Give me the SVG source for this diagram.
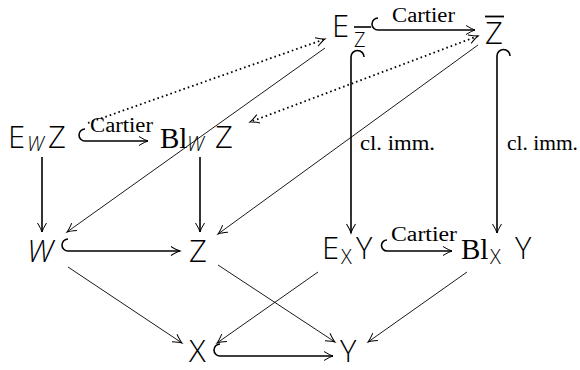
<svg xmlns="http://www.w3.org/2000/svg" width="580" height="370" viewBox="0 0 580 370">
<style>
.m{font-family:"Open Sans","Lato","DejaVu Sans",sans-serif;font-weight:300;font-size:31px;fill:#000}
.s{font-family:"Open Sans","Lato","DejaVu Sans",sans-serif;font-weight:300;font-size:20px;fill:#000}
.si{font-family:"Open Sans","Lato","DejaVu Sans",sans-serif;font-weight:300;font-size:20px;font-style:italic;fill:#000}
.r{font-family:"Liberation Serif","DejaVu Serif",serif;font-weight:normal;fill:#000}
.lab{font-family:"Liberation Serif","DejaVu Serif",serif;font-size:20px;fill:#000}
.thick{stroke:#000;stroke-width:1.6;fill:none}
.thin{stroke:#000;stroke-width:0.9;fill:none}
.dot{stroke:#000;stroke-width:1.8;fill:none;stroke-dasharray:1.6 3}
</style>
<defs>
<marker id="ah" markerUnits="userSpaceOnUse" markerWidth="16" markerHeight="12" viewBox="-10 -6 12 12" refX="0" refY="0" orient="auto">
<path d="M-9,-4.5 Q-3,-0.8 0,0 Q-3,0.8 -9,4.5" stroke="#000" stroke-width="1" fill="none"/>
</marker>
<marker id="ahs" markerUnits="userSpaceOnUse" markerWidth="16" markerHeight="12" viewBox="-10 -6 12 12" refX="0" refY="0" orient="auto-start-reverse">
<path d="M-9,-4.5 Q-3,-0.8 0,0 Q-3,0.8 -9,4.5" stroke="#000" stroke-width="1" fill="none"/>
</marker>
</defs>

<g id="connectors">
<path class="thick" d="M378,18 A6,6 0 0 0 378,30 L475,30" marker-end="url(#ah)"/>
<path class="thick" d="M85,129 A6,6 0 0 0 85,141 L148,141" marker-end="url(#ah)"/>
<path class="thick" d="M68,239 A6,6 0 0 0 68,251 L180,251" marker-end="url(#ah)"/>
<path class="thick" d="M387,240 A5.5,5.5 0 0 0 387,251 L452,251" marker-end="url(#ah)"/>
<path class="thick" d="M220,344 A6,6 0 0 0 220,356 L333,356" marker-end="url(#ah)"/>
<path class="thick" d="M364,57 A6.5,6.5 0 0 0 351,57 L351,233" marker-end="url(#ah)"/>
<path class="thick" d="M510,56 A6.5,6.5 0 0 0 497,56 L497,233" marker-end="url(#ah)"/>
<path class="thick" d="M42,157 L42,232" marker-end="url(#ah)"/>
<path class="thick" d="M200,157 L200,232" marker-end="url(#ah)"/>
<path class="thin" d="M325,48 L67,232" marker-end="url(#ah)"/>
<path class="thin" d="M478,45 L218,234" marker-end="url(#ah)"/>
<path class="thin" d="M68,267 L182,343" marker-end="url(#ah)"/>
<path class="thin" d="M218,265 L335,342" marker-end="url(#ah)"/>
<path class="thin" d="M318,272 L217,343" marker-end="url(#ah)"/>
<path class="thin" d="M467,272 L368,342" marker-end="url(#ah)"/>
<path class="dot" d="M88,123 L325,39" marker-end="url(#ah)"/>
<path class="dot" d="M478,36 L250,122" marker-start="url(#ahs)" marker-end="url(#ah)"/>
</g>

<g id="labels">
<text class="lab" x="392" y="22" textLength="63" lengthAdjust="spacingAndGlyphs">Cartier</text>
<text class="lab" x="90" y="132" textLength="63" lengthAdjust="spacingAndGlyphs">Cartier</text>
<text class="lab" x="391" y="241" textLength="66" lengthAdjust="spacingAndGlyphs">Cartier</text>
<text class="lab" x="360" y="150" textLength="75" lengthAdjust="spacingAndGlyphs">cl. imm.</text>
<text class="lab" x="507" y="150" textLength="71" lengthAdjust="spacingAndGlyphs">cl. imm.</text>
</g>

<g id="node-EZbar">
<text class="m" x="332" y="37">E</text>
<line x1="354" y1="27" x2="371" y2="27" stroke="#000" stroke-width="1.6"/>
<text class="s" x="354" y="47">Z</text>
</g>
<g id="node-Zbar">
<line x1="485" y1="16.5" x2="504" y2="16.5" stroke="#000" stroke-width="1.8"/>
<text class="m" x="485" y="44">Z</text>
</g>
<g id="node-EWZ">
<text class="m" x="8" y="148">E</text>
<text class="si" x="27" y="151">W</text>
<text class="m" x="48" y="148">Z</text>
</g>
<g id="node-BlWZ">
<text class="r" x="160" y="148" font-size="29">Bl</text>
<text class="si" x="187" y="151">W</text>
<text class="m" x="215" y="148">Z</text>
</g>
<g id="node-W">
<text class="m" x="27" y="262" font-style="italic">W</text>
</g>
<g id="node-Z">
<text class="m" x="189" y="262">Z</text>
</g>
<g id="node-EXY">
<text class="m" x="322" y="259">E</text>
<text class="s" x="341" y="264">X</text>
<text class="m" x="356" y="259">Y</text>
</g>
<g id="node-BlXY">
<text class="r" x="461" y="259" font-size="29">Bl</text>
<text class="s" x="490" y="264">X</text>
<text class="m" x="515" y="259">Y</text>
</g>
<g id="node-X">
<text class="m" x="189" y="362" font-size="30">X</text>
</g>
<g id="node-Y">
<text class="m" x="340" y="362" font-size="30">Y</text>
</g>
</svg>
